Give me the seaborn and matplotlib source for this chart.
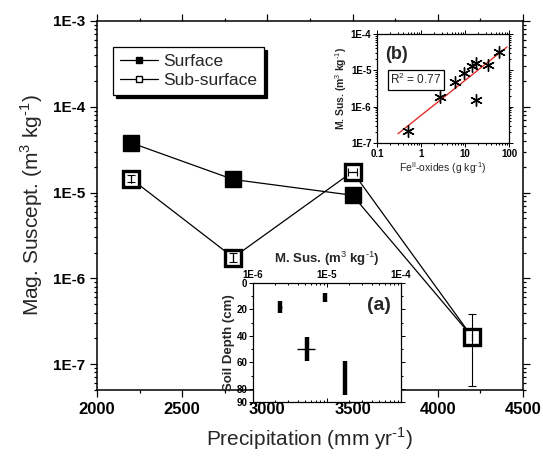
import matplotlib
matplotlib.use("Agg")
import matplotlib.pyplot as plt
from matplotlib.lines import Line2D
from matplotlib.ticker import FuncFormatter, LogLocator, MultipleLocator, NullFormatter
import numpy as np
import pandas as pd
import seaborn as sns

# main panel: magnetic susceptibility vs precipitation
precip = [2200, 2800, 3500, 4200]
surface = [3.8e-5, 1.42e-5, 9.3e-6, 2.1e-7]
subsurface = [1.45e-5, 1.75e-6, 1.75e-5, 2.1e-7]
sub_err_lo = [1.2e-6, 1.8e-7, 0.0, 1.55e-7]
sub_err_hi = [1.4e-6, 2.0e-7, 0.0, 1.7e-7]
sub_xerr = [0, 0, 25, 0]

# inset (a): depth profile
a_sus = [2.3e-6, 9.4e-6, 5.4e-6, 1.75e-5]
a_depth = [18, 11, 50, 72]
a_depth_err = [4.5, 3.5, 9, 13]
a_sus_lo = [0.15e-6, 0.3e-6, 1.5e-6, 0.3e-6]
a_sus_hi = [0.15e-6, 0.3e-6, 1.5e-6, 0.3e-6]

# inset (b): susceptibility vs Fe(II)-oxides
b_fe = [0.5, 2.75, 6.0, 9.3, 14.4, 17.8, 17.8, 33, 58]
b_sus = [2.1e-7, 1.8e-6, 4.8e-6, 8.5e-6, 1.29e-5, 1.6e-5, 1.56e-6, 1.37e-5, 3.3e-5]
fit_fe = [0.3, 90]
fit_sus = [1.8e-7, 4.4e-5]
r2_text = "R$^2$ = 0.77"

UNIT = r"(m$^3$ kg$^{\text{-}1}$)"

sns.set_theme(style="ticks")
plt.rcParams["font.family"] = ["Liberation Sans", "DejaVu Sans"]
plt.rcParams["mathtext.fontset"] = "custom"
plt.rcParams["mathtext.rm"] = "Liberation Sans"
plt.rcParams["mathtext.bf"] = "Liberation Sans:bold"
plt.rcParams["axes.unicode_minus"] = False

fig = plt.figure(figsize=(5.43, 4.68), dpi=100)
ax = fig.add_axes([0.1786, 0.1667, 0.7845, 0.7885])


def sci_label(v, pos):
    return f"1E{int(round(np.log10(v)))}"


def style_axis(a, lw=1.0, major=4, minor=2, size=9):
    for s in a.spines.values():
        s.set_linewidth(lw)
        s.set_color("black")
    a.tick_params(which="both", colors="black", width=lw * 0.8)
    a.tick_params(which="major", length=major, labelsize=size)
    a.tick_params(which="minor", length=minor)
    a.tick_params(axis="both", which="both", top=True, right=True)
    a.tick_params(axis="x", which="both", direction="out")
    a.tick_params(axis="y", which="both", direction="out")
    for lab in a.get_xticklabels() + a.get_yticklabels():
        lab.set_fontweight("bold")


main_df = pd.DataFrame({"precip": precip * 2,
                        "sus": surface + subsurface,
                        "layer": ["Surface"] * 4 + ["Sub-surface"] * 4})
sns.lineplot(data=main_df, x="precip", y="sus", units="layer", estimator=None,
             color="black", lw=0.9, ax=ax, zorder=1)
ax.errorbar(precip, subsurface, yerr=[sub_err_lo, sub_err_hi], xerr=sub_xerr,
            fmt="none", ecolor="black", elinewidth=0.8, capsize=3, capthick=0.8, zorder=4)
ax.plot(precip[:3], surface[:3], ls="none", marker="s", ms=12, mfc="black",
        mec="black", zorder=3)
ax.plot(precip, subsurface, ls="none", marker="s", ms=12, mfc="none",
        mec="black", mew=2.4, zorder=5)
ax.plot(precip, subsurface, ls="none", marker="s", ms=11, mfc="white",
        mec="none", zorder=2)

ax.set_yscale("log")
ax.set_xlim(2000, 4500)
ax.set_ylim(5e-8, 1e-3)
ax.xaxis.set_major_locator(MultipleLocator(500))
ax.xaxis.set_minor_locator(MultipleLocator(250))
ax.yaxis.set_major_locator(LogLocator(base=10, numticks=10))
ax.yaxis.set_minor_locator(LogLocator(base=10, subs=np.arange(2, 10), numticks=20))
ax.yaxis.set_major_formatter(FuncFormatter(sci_label))
ax.yaxis.set_minor_formatter(NullFormatter())
ax.set_xlabel(r"Precipitation (mm yr$^{\text{-}1}$)", fontsize=15, labelpad=6)
ax.set_ylabel("Mag. Suscept. " + UNIT, fontsize=15, labelpad=6)
style_axis(ax, lw=1.1, major=5, minor=2.5, size=11)
ax.tick_params(axis="both", which="both", labeltop=False, labelright=False)
ax.tick_params(axis="x", which="major", labelsize=12)

handles = [Line2D([0], [0], color="black", lw=0.9, marker="s", ms=5, mfc="black", mec="black"),
           Line2D([0], [0], color="black", lw=0.9, marker="s", ms=5, mfc="white", mec="black")]
leg = ax.legend(handles, ["Surface", "Sub-surface"], loc="upper left",
                bbox_to_anchor=(0.038, 0.93), borderaxespad=0, fontsize=12.5,
                frameon=True, fancybox=False, edgecolor="black", framealpha=1,
                handlelength=2.2, handletextpad=0.3, borderpad=0.4, labelspacing=0.25,
                shadow={"color": "black", "alpha": 1})
leg.get_frame().set_linewidth(0.9)

# inset (b)
axb = fig.add_axes([0.6943, 0.6944, 0.2431, 0.2329])
b_df = pd.DataFrame({"fe": b_fe, "sus": b_sus})
sns.scatterplot(data=b_df, x="fe", y="sus", marker=(6, 2, 0), s=70, color="black",
                linewidth=1.0, ax=axb, zorder=3)
axb.plot(fit_fe, fit_sus, color="#e0302a", lw=1.0, zorder=2)
axb.set_xscale("log")
axb.set_yscale("log")
axb.set_xlim(0.1, 100)
axb.set_ylim(1e-7, 1e-4)
axb.xaxis.set_major_locator(LogLocator(base=10, numticks=10))
axb.xaxis.set_minor_locator(LogLocator(base=10, subs=np.arange(2, 10), numticks=20))
axb.xaxis.set_major_formatter(FuncFormatter(lambda v, p: f"{v:g}"))
axb.xaxis.set_minor_formatter(NullFormatter())
axb.yaxis.set_major_locator(LogLocator(base=10, numticks=10))
axb.yaxis.set_minor_locator(LogLocator(base=10, subs=np.arange(2, 10), numticks=20))
axb.yaxis.set_major_formatter(FuncFormatter(sci_label))
axb.yaxis.set_minor_formatter(NullFormatter())
axb.set_xlabel(r"Fe$^{\mathrm{II}}$-oxides (g kg$^{\text{-}1}$)", fontsize=7.5, labelpad=1)
axb.set_ylabel("M. Sus. " + UNIT, fontsize=7.5, fontweight="bold", labelpad=1)
style_axis(axb, lw=0.9, major=3, minor=1.5, size=7)
axb.tick_params(axis="both", which="both", pad=1)
axb.text(0.06, 0.89, "(b)", transform=axb.transAxes, fontsize=13, fontweight="bold",
         va="top", ha="left")
axb.text(0.10, 0.58, r2_text, transform=axb.transAxes, fontsize=8.5, va="center", ha="left",
         bbox=dict(boxstyle="square,pad=0.2", fc="white", ec="black", lw=0.9))

# inset (a)
axa = fig.add_axes([0.4659, 0.1410, 0.2726, 0.2543])
axa.errorbar(a_sus, a_depth, yerr=a_depth_err, fmt="none", ecolor="black",
             elinewidth=3.2, capsize=0, zorder=3)
axa.errorbar(a_sus, a_depth, xerr=[a_sus_lo, a_sus_hi], fmt="none", ecolor="black",
             elinewidth=1.0, capsize=0, zorder=3)
axa.set_xscale("log")
axa.set_xlim(1e-6, 1e-4)
axa.set_ylim(90, 0)
axa.set_yticks([0, 20, 40, 60, 80, 90])
axa.yaxis.set_minor_locator(MultipleLocator(10))
axa.xaxis.set_major_locator(LogLocator(base=10, numticks=10))
axa.xaxis.set_minor_locator(LogLocator(base=10, subs=np.arange(2, 10), numticks=20))
axa.xaxis.set_major_formatter(FuncFormatter(sci_label))
axa.xaxis.set_minor_formatter(NullFormatter())
axa.xaxis.set_label_position("top")
axa.set_xlabel("M. Sus. " + UNIT, fontsize=9.5, fontweight="bold", labelpad=5)
axa.set_ylabel("Soil Depth (cm)", fontsize=9.5, fontweight="bold", labelpad=1)
style_axis(axa, lw=0.9, major=3, minor=1.5, size=7)
axa.tick_params(axis="x", which="both", labeltop=True, labelbottom=False, direction="in", pad=2)
axa.tick_params(axis="y", which="both", pad=1)
for lab in axa.get_xticklabels() + axa.get_yticklabels():
    lab.set_fontweight("bold")
axa.text(0.93, 0.88, "(a)", transform=axa.transAxes, fontsize=14, fontweight="bold",
         va="top", ha="right")

fig.savefig("out.png", dpi=100)
plt.close(fig)
